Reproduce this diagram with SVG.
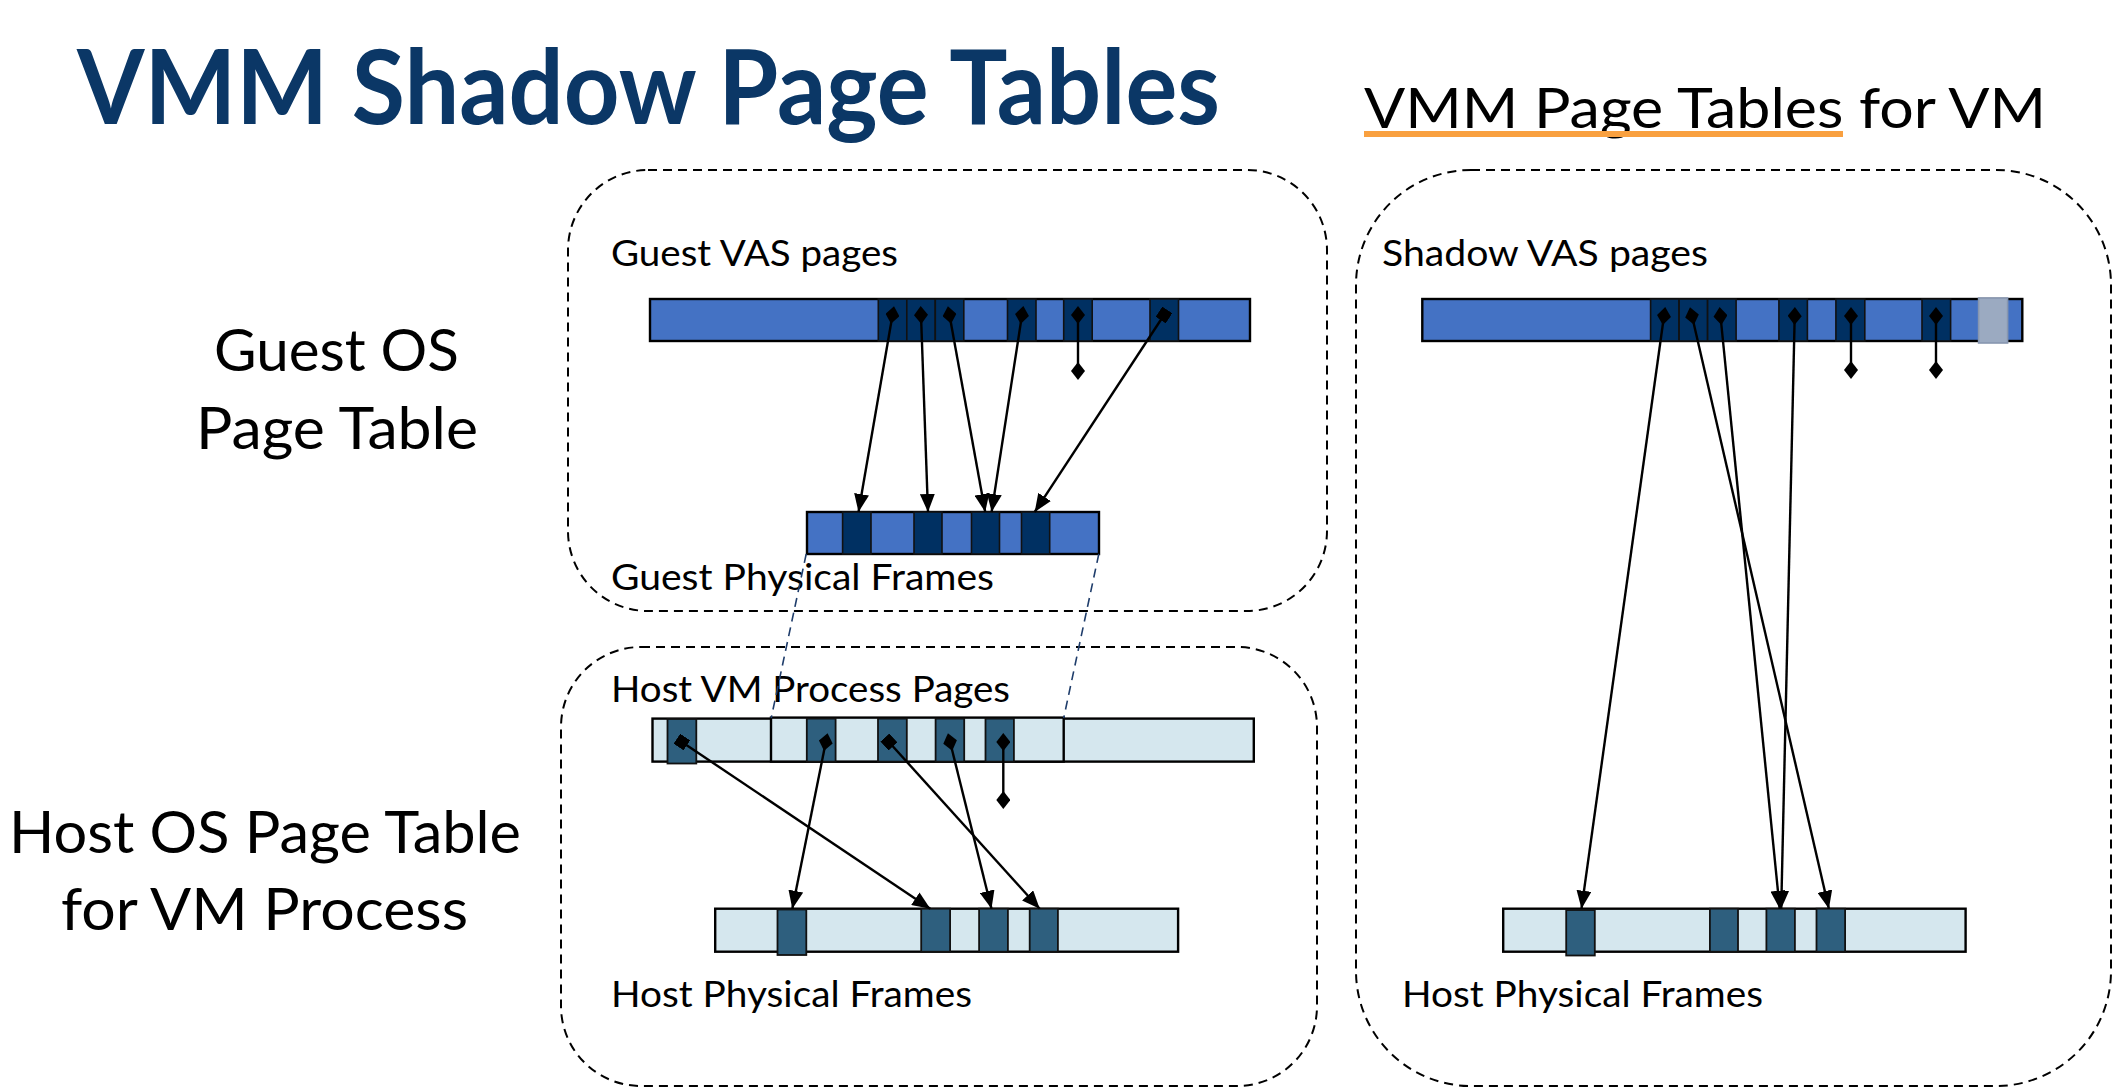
<svg xmlns="http://www.w3.org/2000/svg" width="2114" height="1088" viewBox="0 0 2114 1088">
<style>
text{font-family:Lato,"Open Sans","Liberation Sans",sans-serif;fill:#000}
.title{font-weight:bold;font-size:103px;fill:#0B3766}
.sub{font-size:56px}
.lbl{font-size:37px}
.side{font-size:58px}
.box{fill:none;stroke:#000;stroke-width:2;stroke-dasharray:9 6}
.gbar{fill:#4472C4;stroke:#000;stroke-width:2.4}
.gcell{fill:#003062;stroke:#111;stroke-width:1.6}
.hbar{fill:#D5E7EE;stroke:#000;stroke-width:2.4}
.hcell{fill:#2E5F7E;stroke:#111;stroke-width:1.8}
.ptr{stroke:#000;stroke-width:2.4;fill:none}
.map{stroke:#1F3D6B;stroke-width:1.6;stroke-dasharray:9 6;fill:none}
</style>
<defs>
<marker id="arr" markerUnits="userSpaceOnUse" markerWidth="18" markerHeight="15" viewBox="0 0 18 15" refX="18" refY="7.5" orient="auto"><path d="M0,0 L18,7.5 L0,15 z" fill="#000"/></marker>
<marker id="dia" markerUnits="userSpaceOnUse" markerWidth="18" markerHeight="14" viewBox="0 0 18 14" refX="9" refY="7" orient="auto"><path d="M0,7 L9,0 L18,7 L9,14 z" fill="#000"/></marker>
<marker id="sq" markerUnits="userSpaceOnUse" markerWidth="12" markerHeight="12" viewBox="0 0 12 12" refX="6" refY="6" orient="auto"><rect x="0" y="0" width="12" height="12" fill="#000"/></marker>
</defs>

<g id="titles">
<text class="title" x="77" y="124" textLength="1143" lengthAdjust="spacingAndGlyphs">VMM Shadow Page Tables</text>
<text class="sub" x="1364" y="128" textLength="682" lengthAdjust="spacingAndGlyphs">VMM Page Tables for VM</text>
<rect x="1364" y="131" width="479" height="6" fill="#F9A03F"/>
</g>

<g id="side-labels">
<text class="side" x="214" y="371" textLength="245" lengthAdjust="spacingAndGlyphs">Guest OS</text>
<text class="side" x="196" y="449" textLength="282" lengthAdjust="spacingAndGlyphs">Page Table</text>
<text class="side" x="9" y="853" textLength="512" lengthAdjust="spacingAndGlyphs">Host OS Page Table</text>
<text class="side" x="61" y="930" textLength="407" lengthAdjust="spacingAndGlyphs">for VM Process</text>
</g>

<g id="guest-box">
<rect class="box" x="568" y="170" width="759" height="441" rx="80" ry="80"/>
<text class="lbl" x="611" y="266" textLength="287" lengthAdjust="spacingAndGlyphs">Guest VAS pages</text>
<text class="lbl" x="611" y="590" textLength="383" lengthAdjust="spacingAndGlyphs">Guest Physical Frames</text>
</g>

<g id="host-box">
<rect class="box" x="561" y="647" width="756" height="439" rx="80" ry="80"/>
<text class="lbl" x="611" y="702" textLength="399" lengthAdjust="spacingAndGlyphs">Host VM Process Pages</text>
<text class="lbl" x="611" y="1007" textLength="361" lengthAdjust="spacingAndGlyphs">Host Physical Frames</text>
</g>

<g id="vmm-box">
<rect class="box" x="1356" y="170" width="755" height="916" rx="115" ry="115"/>
<text class="lbl" x="1382" y="266" textLength="326" lengthAdjust="spacingAndGlyphs">Shadow VAS pages</text>
<text class="lbl" x="1402" y="1007" textLength="361" lengthAdjust="spacingAndGlyphs">Host Physical Frames</text>
</g>

<g id="guest-vas-bar">
<rect class="gbar" x="650" y="299" width="600" height="42"/>
<rect class="gcell" x="878.3" y="299" width="28.5" height="42"/>
<rect class="gcell" x="906.8" y="299" width="28.5" height="42"/>
<rect class="gcell" x="935.3" y="299" width="28.5" height="42"/>
<rect class="gcell" x="1007.5" y="299" width="28.5" height="42"/>
<rect class="gcell" x="1063.7" y="299" width="28.5" height="42"/>
<rect class="gcell" x="1150" y="299" width="28.5" height="42"/>
</g>

<g id="guest-phys-bar">
<rect class="gbar" x="807" y="512" width="292" height="42"/>
<rect class="gcell" x="842.6" y="512" width="28.4" height="42"/>
<rect class="gcell" x="914" y="512" width="28" height="42"/>
<rect class="gcell" x="971.5" y="512" width="28" height="42"/>
<rect class="gcell" x="1021.5" y="512" width="28.2" height="42"/>
</g>

<g id="host-vm-bar">
<rect class="hbar" x="652.5" y="718.6" width="601.3" height="43"/>
<rect class="hbar" x="771" y="717.6" width="292.7" height="44"/>
<rect class="hcell" x="667.5" y="719" width="28.8" height="44.5"/>
<rect class="hcell" x="806.8" y="718.6" width="28.8" height="43"/>
<rect class="hcell" x="878" y="718.6" width="28.8" height="43"/>
<rect class="hcell" x="935.6" y="718.6" width="28.6" height="43"/>
<rect class="hcell" x="985.5" y="718.6" width="28.4" height="43"/>
</g>

<g id="host-phys-bar">
<rect class="hbar" x="715.2" y="908.7" width="462.9" height="43"/>
<rect class="hcell" x="777.5" y="909.5" width="28.8" height="45.5"/>
<rect class="hcell" x="921.2" y="908.7" width="28.9" height="43"/>
<rect class="hcell" x="979.1" y="908.7" width="28.8" height="43"/>
<rect class="hcell" x="1029.7" y="908.7" width="28.2" height="43"/>
</g>

<g id="shadow-vas-bar">
<rect class="gbar" x="1422.3" y="299" width="600" height="42"/>
<rect class="gcell" x="1650.6" y="299" width="28.5" height="42"/>
<rect class="gcell" x="1679.1" y="299" width="28.5" height="42"/>
<rect class="gcell" x="1707.6" y="299" width="28.5" height="42"/>
<rect class="gcell" x="1778.9" y="299" width="28.5" height="42"/>
<rect class="gcell" x="1835.9" y="299" width="28.9" height="42"/>
<rect class="gcell" x="1922" y="299" width="28.6" height="42"/>
<rect x="1978.6" y="298" width="29" height="45" fill="#9BAAC1" stroke="#8796B0" stroke-width="1.6"/>
</g>

<g id="vmm-host-phys-bar">
<rect class="hbar" x="1503.2" y="908.7" width="462.4" height="43"/>
<rect class="hcell" x="1566.2" y="910" width="28.6" height="45.5"/>
<rect class="hcell" x="1709.9" y="908.7" width="28.1" height="43"/>
<rect class="hcell" x="1766.4" y="908.7" width="28.5" height="43"/>
<rect class="hcell" x="1816.5" y="908.7" width="28.6" height="43"/>
</g>

<g id="connectors">
<line class="map" x1="806.2" y1="554" x2="771.2" y2="718"/>
<line class="map" x1="1098.8" y1="554" x2="1063.7" y2="718"/>

<line class="ptr" x1="892.5" y1="315" x2="858.5" y2="512" marker-start="url(#dia)" marker-end="url(#arr)"/>
<line class="ptr" x1="921" y1="315" x2="928" y2="512" marker-start="url(#dia)" marker-end="url(#arr)"/>
<line class="ptr" x1="949.5" y1="315" x2="985.2" y2="512" marker-start="url(#dia)" marker-end="url(#arr)"/>
<line class="ptr" x1="1022" y1="315" x2="991.6" y2="512" marker-start="url(#dia)" marker-end="url(#arr)"/>
<line class="ptr" x1="1078" y1="315" x2="1078" y2="371" marker-start="url(#dia)" marker-end="url(#dia)"/>
<line class="ptr" x1="1164" y1="315" x2="1034.7" y2="512" marker-start="url(#sq)" marker-end="url(#arr)"/>

<line class="ptr" x1="681.9" y1="742" x2="930.3" y2="908.7" marker-start="url(#sq)" marker-end="url(#arr)"/>
<line class="ptr" x1="825.8" y1="742" x2="792.3" y2="908.7" marker-start="url(#dia)" marker-end="url(#arr)"/>
<line class="ptr" x1="888.9" y1="742" x2="1039.7" y2="908.7" marker-start="url(#sq)" marker-end="url(#arr)"/>
<line class="ptr" x1="950.1" y1="742" x2="991.5" y2="908.7" marker-start="url(#dia)" marker-end="url(#arr)"/>
<line class="ptr" x1="1003.3" y1="742" x2="1003.3" y2="800" marker-start="url(#dia)" marker-end="url(#dia)"/>

<line class="ptr" x1="1664" y1="316" x2="1581.5" y2="908.7" marker-start="url(#dia)" marker-end="url(#arr)"/>
<line class="ptr" x1="1692" y1="316" x2="1828.9" y2="908.7" marker-start="url(#dia)" marker-end="url(#arr)"/>
<line class="ptr" x1="1720.5" y1="316" x2="1779.7" y2="908.7" marker-start="url(#dia)" marker-end="url(#arr)"/>
<line class="ptr" x1="1794.7" y1="316" x2="1781.2" y2="908.7" marker-start="url(#dia)" marker-end="url(#arr)"/>
<line class="ptr" x1="1851" y1="316" x2="1851" y2="370" marker-start="url(#dia)" marker-end="url(#dia)"/>
<line class="ptr" x1="1936" y1="316" x2="1936" y2="370" marker-start="url(#dia)" marker-end="url(#dia)"/>
</g>
</svg>
